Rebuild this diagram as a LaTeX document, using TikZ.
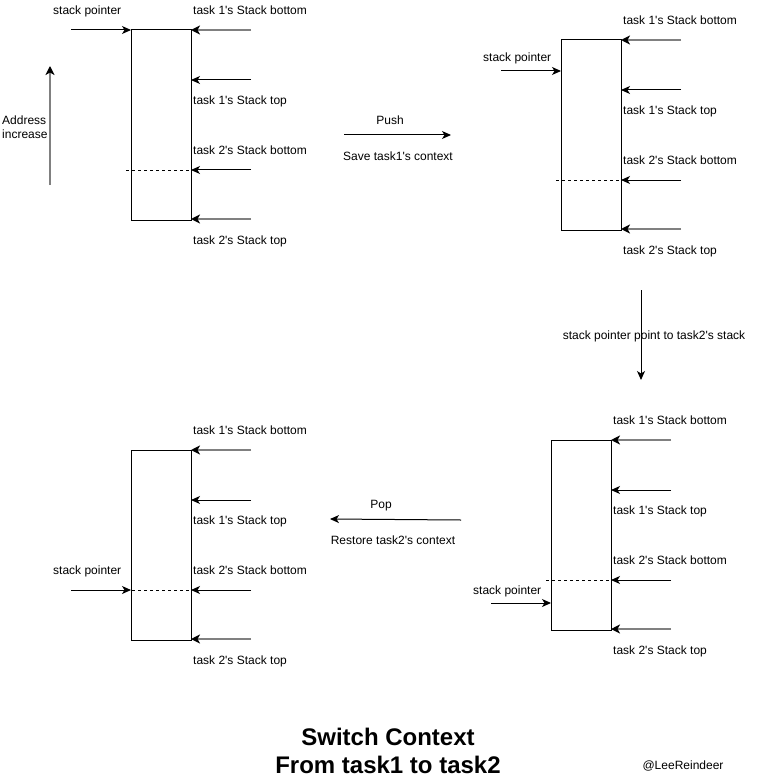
\documentclass[tikz,border=0pt]{standalone}
\usepackage{fontspec}
\setmainfont{Liberation Sans}[Ligatures=TeXOff]
\usetikzlibrary{arrows.meta,positioning,calc}
\definecolor{edgegray}{HTML}{808080}
\tikzset{
  stackbox/.style={draw=black, line width=1pt, minimum width=60pt,
    minimum height=190pt, inner sep=0pt, outer sep=0pt},
  lbl/.style={font=\fontsize{12}{14}\selectfont, inner sep=0pt,
    text height=8.5pt, text depth=0pt},
  flow/.style={line width=1pt, -{Stealth[length=9pt,width=8pt,inset=2.5pt]}},
  gflow/.style={line width=2pt, draw=edgegray,
    -{Stealth[length=9pt,width=9pt,inset=2.5pt,black]}},
  dline/.style={dash pattern=on 3pt off 3pt, line width=0.8pt},
  ttl/.style={font=\bfseries\fontsize{24}{28}\selectfont, align=center}
}
% #1 name, #2 x, #3 y, #4 stack pointer offset, #5 its label offset
\newcommand{\stackframe}[5]{%
  \node[stackbox, anchor=north west] (#1) at (#2,#3) {};
  \coordinate (#1-sp) at ($(#1.north west)+(-60,#4)$);
  \node[lbl, anchor=west] (#1-spl) at ($(#1.north west)+(-78,#5)$) {stack pointer};
  \coordinate (#1-b1) at ($(#1.north east)+(60,0)$);
  \coordinate (#1-t1) at ($(#1.north east)+(60,50)$);
  \coordinate (#1-b2) at ($(#1.north east)+(60,140)$);
  \coordinate (#1-t2) at ($(#1.north east)+(60,189)$);
  \coordinate (#1-dl) at ($(#1.north west)+(-5,140)$);
  \node[lbl, anchor=west] (#1-lb1) at ($(#1.north east)+(2,-20)$) {task 1's Stack bottom};
  \node[lbl, anchor=west] (#1-lt1) at ($(#1.north east)+(2,70)$) {task 1's Stack top};
  \node[lbl, anchor=west] (#1-lb2) at ($(#1.north east)+(2,120)$) {task 2's Stack bottom};
  \node[lbl, anchor=west] (#1-lt2) at ($(#1.north east)+(2,210)$) {task 2's Stack top};
  \draw[dline] (#1-dl) -- (#1-dl -| #1.east);
  \draw[flow] (#1-sp) -- (#1-sp -| #1.west);
  \draw[gflow] (#1-b1) -- (#1-b1 -| #1.east);
  \draw[flow] (#1-t1) -- (#1-t1 -| #1.east);
  \draw[flow] (#1-b2) -- (#1-b2 -| #1.east);
  \draw[gflow] (#1-t2) -- (#1-t2 -| #1.east);
}

\begin{document}
\begin{tikzpicture}[x=1pt, y=-1pt]
  \useasboundingbox (0,0) rectangle (762,778);

  % the four stack snapshots
  \stackframe{s1}{131}{30}{0}{-20}
  \stackframe{s2}{561}{40}{31}{17}
  \stackframe{s3}{551}{440}{163}{150}
  \stackframe{s4}{131}{450}{140}{120}

  % address direction
  \coordinate (addr-a) at (50,185);
  \coordinate (addr-b) at (50,66);
  \draw[gflow] (addr-a) -- (addr-b);
  \node[lbl, anchor=west, align=left, text height=, text depth=] (addr)
    at (2,127) {Address\\increase};

  % steps
  \coordinate (push-a) at (344,135);
  \coordinate (push-b) at (451,135);
  \draw[flow] (push-a) -- (push-b);
  \node[lbl] (push-l) at (390,120) {Push};
  \node[lbl] (push-s) at (398,156) {Save task1's context};

  \coordinate (move-a) at (641,290);
  \coordinate (move-b) at (641,380);
  \draw[flow] (move-a) -- (move-b);
  \node[lbl] (move-l) at (654,335) {stack pointer point to task2's stack};

  \coordinate (pop-a) at (461,520);
  \coordinate (pop-b) at (330,519);
  \draw[flow] (pop-a) -- (pop-b);
  \node[lbl] (pop-l) at (381,504) {Pop};
  \node[lbl] (pop-s) at (393,540) {Restore task2's context};

  % title
  \node[ttl] (title) at (388,751) {Switch Context\\From task1 to task2};
  \node[lbl] (sign) at (683,765) {@LeeReindeer};
\end{tikzpicture}
\end{document}
